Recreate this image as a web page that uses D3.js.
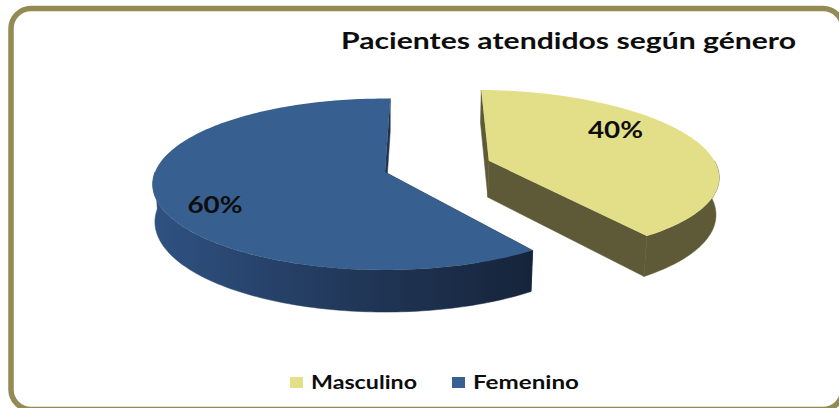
<!DOCTYPE html>
<html>
<head>
<meta charset="utf-8">
<script src="https://cdn.jsdelivr.net/npm/d3@7"></script>
<style>
  body { margin: 0; background: #fff; }
  svg { display: block; }
  text { font-family: Lato, "Open Sans", sans-serif; font-weight: bold; fill: #0d0d0d; }
</style>
</head>
<body>
<div id="chart"></div>
<script>
// data
const title = "Pacientes atendidos según género";
const categories = ["Masculino", "Femenino"];
const values = [40, 60];

const width = 839, height = 408;
const topColors = ["#e3df89", "#376090"];
const sideColors = ["#5e5a37", "url(#blueSide)"];
const explode = [0.48, 0];   // pull-out of each slice, in radii
const firstSliceAngle = 1.5 * Math.PI / 180;

// perspective camera for the tilted pie
const cam = { cx: 385, cy: 172, D: 6.52, tilt: Math.asin(0.365) };
cam.f = cam.D * 230;
const depth = 0.175;

function project(X, Y, Z) {
  const s = Math.sin(cam.tilt), c = Math.cos(cam.tilt);
  const zc = cam.D + Y * c - Z * s;
  const yc = Y * s + Z * c;
  return [cam.cx + cam.f * X / zc, cam.cy - cam.f * yc / zc];
}

const svg = d3.select("#chart").append("svg")
  .attr("width", width).attr("height", height);

const defs = svg.append("defs");
const grad = defs.append("linearGradient").attr("id", "blueSide")
  .attr("gradientUnits", "userSpaceOnUse")
  .attr("x1", 150).attr("x2", 530).attr("y1", 0).attr("y2", 0);
grad.append("stop").attr("offset", 0).attr("stop-color", "#2f5282");
grad.append("stop").attr("offset", 0.5).attr("stop-color", "#22395b");
grad.append("stop").attr("offset", 1).attr("stop-color", "#16243b");

// frame
svg.append("rect")
  .attr("x", 11).attr("y", 8.5)
  .attr("width", 832).attr("height", 401)
  .attr("rx", 20).attr("ry", 20)
  .attr("fill", "#fff")
  .attr("stroke", "#948a54").attr("stroke-width", 5.5);

svg.append("text")
  .attr("x", 341).attr("y", 49)
  .attr("font-size", 22)
  .attr("textLength", 455).attr("lengthAdjust", "spacingAndGlyphs")
  .text(title);

const arcs = d3.pie().sort(null).value(d => d)
  .startAngle(firstSliceAngle).endAngle(firstSliceAngle + 2 * Math.PI)(values);
const line = d3.line().curve(d3.curveLinearClosed);

function arcPoints(ox, oy, a0, a1, Z) {
  const n = Math.max(2, Math.ceil((a1 - a0) / 0.02));
  return d3.range(n + 1).map(k => {
    const a = a0 + (a1 - a0) * k / n;
    return project(ox + Math.sin(a), oy + Math.cos(a), Z);
  });
}

const pieG = svg.append("g");

arcs.forEach((d, i) => {
  const mid = (d.startAngle + d.endAngle) / 2;
  const ox = explode[i] * Math.sin(mid), oy = explode[i] * Math.cos(mid);
  const g = pieG.append("g");

  // radial cut faces
  [d.startAngle, d.endAngle].forEach(a => {
    const pts = [
      project(ox, oy, 0),
      project(ox + Math.sin(a), oy + Math.cos(a), 0),
      project(ox + Math.sin(a), oy + Math.cos(a), -depth),
      project(ox, oy, -depth)
    ];
    g.append("path").attr("d", line(pts)).attr("fill", sideColors[i])
      .attr("stroke", sideColors[i]).attr("stroke-width", 0.5);
  });

  // outer rim, front part only
  const s0 = Math.max(d.startAngle, Math.PI / 2);
  const s1 = Math.min(d.endAngle, 3 * Math.PI / 2);
  if (s1 > s0) {
    const pts = arcPoints(ox, oy, s0, s1, 0)
      .concat(arcPoints(ox, oy, s0, s1, -depth).reverse());
    g.append("path").attr("d", line(pts)).attr("fill", sideColors[i])
      .attr("stroke", sideColors[i]).attr("stroke-width", 0.5);
  }

  // top face
  const top = [project(ox, oy, 0)].concat(arcPoints(ox, oy, d.startAngle, d.endAngle, 0));
  g.append("path").attr("d", line(top)).attr("fill", topColors[i]);
});

// data labels
const labelPos = [[615.5, 138], [215, 213]];
arcs.forEach((d, i) => {
  svg.append("text")
    .attr("x", labelPos[i][0]).attr("y", labelPos[i][1])
    .attr("text-anchor", "middle")
    .attr("font-size", 23)
    .attr("textLength", 55).attr("lengthAdjust", "spacingAndGlyphs")
    .text(d.data + "%");
});

// legend
const legendX = [290, 452];
const legend = svg.append("g");
categories.forEach((c, i) => {
  legend.append("rect")
    .attr("x", legendX[i]).attr("y", 377)
    .attr("width", 13).attr("height", 11)
    .attr("fill", topColors[i]);
  legend.append("text")
    .attr("x", legendX[i] + 21).attr("y", 389)
    .attr("font-size", 19)
    .attr("textLength", 106).attr("lengthAdjust", "spacingAndGlyphs")
    .text(c);
});
</script>
</body>
</html>
